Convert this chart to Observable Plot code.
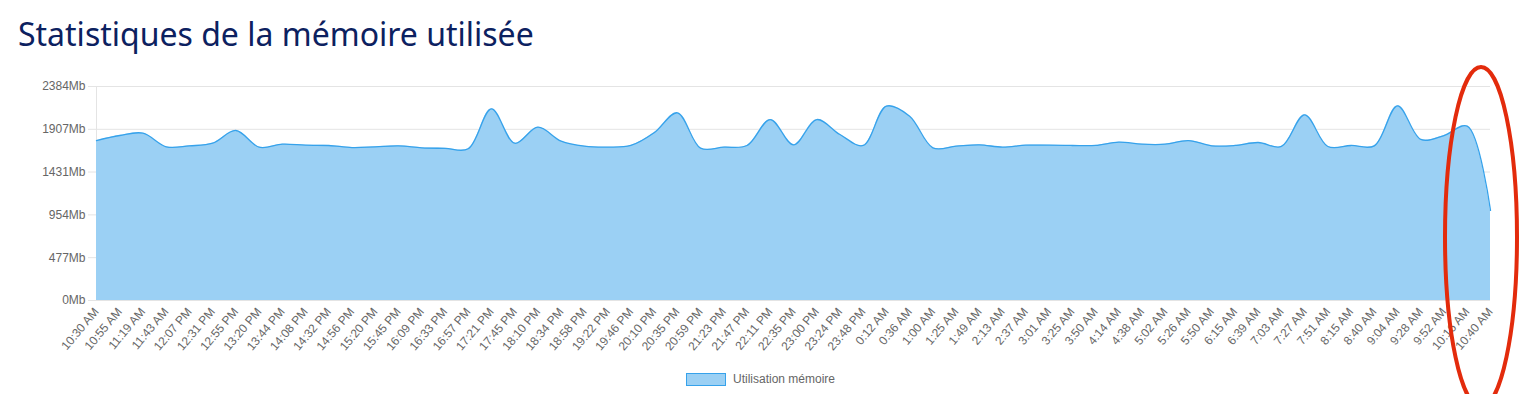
<!DOCTYPE html>
<html>
<head>
<meta charset="utf-8">
<script src="https://cdn.jsdelivr.net/npm/d3@7"></script>
<script src="https://cdn.jsdelivr.net/npm/@observablehq/plot@0.6"></script>
<style>
  html, body { margin: 0; padding: 0; background: #fff; }
  body { width: 1523px; height: 394px; position: relative; overflow: hidden; }
  #title { position: absolute; left: 18px; top: 12px; font-family: "Noto Sans", sans-serif; font-size: 32px; color: #0c2160; white-space: nowrap; }
  #chart { position: absolute; left: 0; top: 70px; }
  #legend { position: absolute; left: 686px; top: 372px; font-family: "Liberation Sans", Arial, sans-serif; font-size: 12px; color: #666; display: flex; align-items: center; }
  #legend .sw { width: 38px; height: 11px; background: #9BD0F4; border: 1px solid #36A2EB; margin-right: 7px; }
  #annot { position: absolute; left: 0; top: 0; pointer-events: none; }
</style>
</head>
<body>
<div id="title">Statistiques de la mémoire utilisée</div>
<div id="chart"></div>
<div id="legend"><div class="sw"></div><span>Utilisation mémoire</span></div>
<svg id="annot" width="1523" height="394"><ellipse cx="1481" cy="237" rx="36" ry="170" fill="none" stroke="#e32b0c" stroke-width="4"/></svg>
<script>
const timeLabels = [
  "10:30 AM","10:55 AM","11:19 AM","11:43 AM","12:07 PM","12:31 PM","12:55 PM","13:20 PM","13:44 PM","14:08 PM",
  "14:32 PM","14:56 PM","15:20 PM","15:45 PM","16:09 PM","16:33 PM","16:57 PM","17:21 PM","17:45 PM","18:10 PM",
  "18:34 PM","18:58 PM","19:22 PM","19:46 PM","20:10 PM","20:35 PM","20:59 PM","21:23 PM","21:47 PM","22:11 PM",
  "22:35 PM","23:00 PM","23:24 PM","23:48 PM","0:12 AM","0:36 AM","1:00 AM","1:25 AM","1:49 AM","2:13 AM",
  "2:37 AM","3:01 AM","3:25 AM","3:50 AM","4:14 AM","4:38 AM","5:02 AM","5:26 AM","5:50 AM","6:15 AM",
  "6:39 AM","7:03 AM","7:27 AM","7:51 AM","8:15 AM","8:40 AM","9:04 AM","9:28 AM","9:52 AM","10:16 AM","10:40 AM"
];
const memoryMb = [
  1782,1838,1864,1712,1723,1752,1894,1708,1741,1730,
  1727,1704,1712,1723,1701,1695,1690,2135,1752,1931,
  1775,1719,1708,1727,1868,2091,1697,1708,1727,2016,
  1734,2016,1849,1727,2165,2053,1701,1719,1734,1708,
  1730,1730,1727,1727,1764,1741,1741,1782,1723,1727,
  1760,1716,2068,1716,1727,1723,2169,1794,1838,1942,1003
];
const yTicks = [0, 477, 954, 1431, 1907, 2384];

const data = memoryMb.map((v, i) => ({i, v}));
const idx = timeLabels.map((_, i) => i);

const chart = Plot.plot({
  width: 1523,
  height: 292,
  marginLeft: 96,
  marginRight: 33,
  marginTop: 16,
  marginBottom: 62,
  style: {fontFamily: "'Liberation Sans', Arial, sans-serif", fontSize: "12px", color: "#666", background: "transparent"},
  x: {domain: [0, timeLabels.length - 1], label: null},
  y: {domain: [0, 2384], label: null},
  marks: [
    Plot.gridY(yTicks, {stroke: "#e4e4e4", strokeOpacity: 1}),
    Plot.ruleX([0], {stroke: "#e4e4e4"}),
    Plot.areaY(data, {x: "i", y: "v", fill: "#9BD0F4", curve: "catmull-rom"}),
    Plot.lineY(data, {x: "i", y: "v", stroke: "#36A2EB", strokeWidth: 1.3, curve: "catmull-rom"}),
    Plot.axisY({ticks: yTicks, tickFormat: d => d + "Mb", tickSize: 8, tickPadding: 3, stroke: "#e4e4e4", color: "#666"}),
    Plot.axisX({ticks: idx, tickFormat: i => timeLabels[i], tickRotate: -50, tickSize: 0, tickPadding: 9, color: "#666"})
  ]
});
document.getElementById("chart").appendChild(chart);
</script>
</body>
</html>
